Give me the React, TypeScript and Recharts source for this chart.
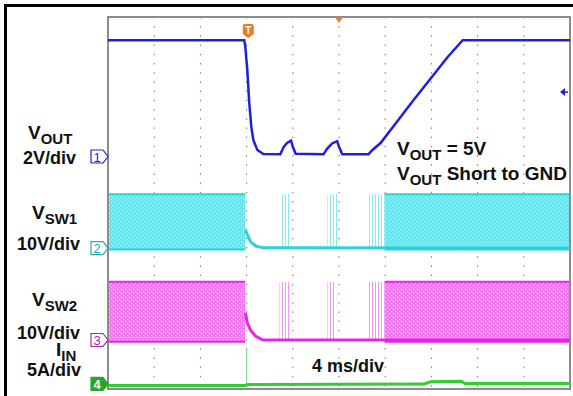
import React from 'react';
import {
  ComposedChart, Line, Area, XAxis, YAxis, CartesianGrid,
  ReferenceArea, ReferenceDot,
} from 'recharts';

// time in ms (trigger ~0), 4 ms/div, 10 div on screen
const timeTicks = [-12, -8, -4, 0, 4, 8, 12, 16, 20, 24, 28];
const divTicks = [-4, -3, -2, -1, 0, 1, 2, 3, 4];

// CH1 VOUT (V)
const vOutTime = [-12, -0.2, -0.11, 0.06, 0.23, 0.41, 0.58, 0.93, 1.45, 2.92, 3.2, 3.5, 3.85, 4.0, 4.25, 6.66, 7.0, 7.4, 7.84, 8.0, 8.28, 10.56, 10.9, 11.6, 14.46, 17.41, 18.71, 28];
const vOutVolts = [5.0, 5.0, 4.71, 3.72, 2.3, 1.27, 0.71, 0.28, 0.11, 0.1, 0.4, 0.58, 0.68, 0.42, 0.12, 0.1, 0.35, 0.56, 0.66, 0.42, 0.1, 0.1, 0.28, 0.58, 2.43, 4.28, 5.0, 5.0];

// CH2 VSW1 (V): switching envelope, burst envelopes, settled trace
const sw1BandTime = [-12, -0.12, -0.11, 11.94, 11.95, 28];
const sw1BandLow = [-0.3, -0.3, null, null, -0.3, -0.3];
const sw1BandHigh = [11.6, 11.6, null, null, 11.6, 11.6];
const sw1BurstTime = [2.9, 3.8, 3.85, 6.95, 7.0, 7.9, 7.95, 10.5, 10.55, 11.95];
const sw1BurstHigh = [11.6, 11.6, null, null, 11.6, 11.6, null, null, 11.6, 11.6];
const sw1Time = [-0.1, 0.08, 0.35, 0.8, 1.4, 28];
const sw1Volts = [3.9, 2.8, 1.35, 0.45, 0.05, 0.0];

// CH3 VSW2 (V)
const sw2BandTime = [-12, -0.12, -0.11, 11.94, 11.95, 28];
const sw2BandLow = [-0.4, -0.4, null, null, -0.4, -0.4];
const sw2BandHigh = [12.5, 12.5, null, null, 12.5, 12.5];
const sw2BurstTime = [2.85, 3.75, 3.8, 6.95, 7.0, 7.75, 7.8, 10.55, 10.6, 11.95];
const sw2BurstHigh = [12.5, 12.5, null, null, 12.5, 12.5, null, null, 12.5, 12.5];
const sw2Time = [-0.1, 0.06, 0.33, 0.77, 1.4, 28];
const sw2Volts = [5.8, 3.7, 2.15, 0.86, 0.0, 0.0];

// CH4 IIN (A)
const iinTime = [-12, -0.1, 0.1, 15.4, 15.9, 18.6, 18.9, 28];
const iinAmps = [0.0, 0.0, 0.1, 0.15, 0.4, 0.45, 0.2, 0.2];
const iinSpikeTime = [0, 0];
const iinSpikeAmps = [0.0, 4.0];

const zip = (t: number[], v: (number | null)[]) => t.map((x, i) => ({ t: x, v: v[i] }));
const band = (t: number[], lo: (number | null)[], hi: (number | null)[]) =>
  t.map((x, i) => ({ t: x, r: lo[i] == null || hi[i] == null ? null : [lo[i], hi[i]] }));

const vOutData = zip(vOutTime, vOutVolts);
const sw1BandData = band(sw1BandTime, sw1BandLow, sw1BandHigh);
const sw1BurstData = band(sw1BurstTime, sw1BurstTime.map((_, i) => (sw1BurstHigh[i] == null ? null : 0)), sw1BurstHigh);
const sw1Data = zip(sw1Time, sw1Volts);
const sw2BandData = band(sw2BandTime, sw2BandLow, sw2BandHigh);
const sw2BurstData = band(sw2BurstTime, sw2BurstTime.map((_, i) => (sw2BurstHigh[i] == null ? null : 0)), sw2BurstHigh);
const sw2Data = zip(sw2Time, sw2Volts);
const iinData = zip(iinTime, iinAmps);
const iinSpikeData = zip(iinSpikeTime, iinSpikeAmps);

const BLUE = '#1f1fdc';
const CYAN = '#27d3dc';
const MAGENTA = '#e625e6';
const GREEN = '#2fcf2f';
const ORANGE = '#f2791c';
const FONT = '"Liberation Sans", Arial, sans-serif';

function ChannelTag({ cx, cy, label, color, filled }: any) {
  return (
    <g>
      <path
        d={`M${cx - 17},${cy - 6.5} H${cx - 5} L${cx},${cy} L${cx - 5},${cy + 6.5} H${cx - 17} Z`}
        fill={filled ? color : '#fff'} stroke={color} strokeWidth={1.2}
      />
      <text x={cx - 11} y={cy + 5} textAnchor="middle" fontSize={13} fontFamily={FONT}
        fontWeight={filled ? 700 : 400} fill={filled ? '#fff' : color}>{label}</text>
    </g>
  );
}

function TrigTag({ cx, cy }: any) {
  return (
    <g>
      <path d={`M${cx - 5.5},${cy + 9} a2,2 0 0 1 2,-2 h7 a2,2 0 0 1 2,2 v8 l-5.5,4 l-5.5,-4 Z`} fill={ORANGE} />
      <text x={cx} y={cy + 17} textAnchor="middle" fontSize={10} fontWeight={700} fontFamily={FONT} fill="#fff">T</text>
    </g>
  );
}

function Txt({ x, y, size = 18, children }: any) {
  return (
    <div style={{
      position: 'absolute', left: x, top: y, fontSize: size, lineHeight: `${0.75 * size}px`,
      fontFamily: FONT, fontWeight: 700, whiteSpace: 'nowrap', color: '#111',
    }}>{children}</div>
  );
}

const Sub = ({ children }: any) => (
  <span style={{ fontSize: 15, position: 'relative', top: 5 }}>{children}</span>
);

export default function App() {
  return (
    <div style={{ position: 'fixed', left: 0, top: 0, width: 573, height: 396, background: '#fff', overflow: 'hidden' }}>
      <div style={{ position: 'absolute', left: 4, top: 4, width: 700, height: 600, border: '3px solid #000' }} />
      <div style={{ position: 'absolute', left: 0, top: 0 }}>
        <ComposedChart width={573} height={396} margin={{ top: 17, right: 3, bottom: 7, left: 108 }}>
          <defs>
            <pattern id="cyanSpeck" width="4" height="4" patternUnits="userSpaceOnUse">
              <rect width="4" height="4" fill="#6be5ec" />
              <rect x="1" y="1" width="1" height="1" fill="#d6f9fb" />
              <rect x="3" y="3" width="1" height="1" fill="#c4f5f8" />
            </pattern>
            <pattern id="magSpeck" width="4" height="4" patternUnits="userSpaceOnUse">
              <rect width="4" height="4" fill="#f07cf0" />
              <rect x="1" y="1" width="1" height="1" fill="#fbd6fb" />
              <rect x="3" y="3" width="1" height="1" fill="#f9c4f9" />
            </pattern>
            <pattern id="cyanBurst" width="3" height="10" patternUnits="userSpaceOnUse">
              <rect width="1" height="10" fill="#8ae9ee" />
            </pattern>
            <pattern id="magBurst" width="3" height="10" patternUnits="userSpaceOnUse">
              <rect width="1" height="10" fill="#f29af2" />
            </pattern>
          </defs>
          <XAxis xAxisId="x" dataKey="t" type="number" domain={[-12, 28]} ticks={timeTicks} hide allowDataOverflow />
          <YAxis yAxisId="grid" type="number" domain={[-4, 4]} ticks={divTicks} hide />
          <YAxis yAxisId="v" type="number" domain={[-10, 6]} hide allowDataOverflow />
          <YAxis yAxisId="sw1" type="number" domain={[-30.3, 49.7]} hide allowDataOverflow />
          <YAxis yAxisId="sw2" type="number" domain={[-10.54, 69.46]} hide allowDataOverflow />
          <YAxis yAxisId="iin" type="number" domain={[-0.38, 39.62]} hide allowDataOverflow />
          <CartesianGrid xAxisId="x" yAxisId="grid" stroke="#777" strokeDasharray="1.5 7.7" />

          <Area xAxisId="x" yAxisId="sw1" data={sw1BurstData} dataKey="r" type="linear" fill="url(#cyanBurst)" fillOpacity={1} stroke="none" isAnimationActive={false} />
          <Area xAxisId="x" yAxisId="sw1" data={sw1BandData} dataKey="r" type="linear" fill="url(#cyanSpeck)" fillOpacity={1} stroke={CYAN} strokeWidth={2} isAnimationActive={false} />
          <Line xAxisId="x" yAxisId="sw1" data={sw1Data} dataKey="v" type="linear" stroke={CYAN} strokeWidth={3} dot={false} isAnimationActive={false} />

          <Area xAxisId="x" yAxisId="sw2" data={sw2BurstData} dataKey="r" type="linear" fill="url(#magBurst)" fillOpacity={1} stroke="none" isAnimationActive={false} />
          <Area xAxisId="x" yAxisId="sw2" data={sw2BandData} dataKey="r" type="linear" fill="url(#magSpeck)" fillOpacity={1} stroke={MAGENTA} strokeWidth={2} isAnimationActive={false} />
          <Line xAxisId="x" yAxisId="sw2" data={sw2Data} dataKey="v" type="linear" stroke={MAGENTA} strokeWidth={3} dot={false} isAnimationActive={false} />

          <Line xAxisId="x" yAxisId="iin" data={iinSpikeData} dataKey="v" type="linear" stroke="#7fe07f" strokeWidth={1} dot={false} isAnimationActive={false} />
          <Line xAxisId="x" yAxisId="iin" data={iinData} dataKey="v" type="linear" stroke={GREEN} strokeWidth={3} dot={false} isAnimationActive={false} />

          <Line xAxisId="x" yAxisId="v" data={vOutData} dataKey="v" type="linear" stroke={BLUE} strokeWidth={2.5} dot={false} isAnimationActive={false} />

          <ReferenceArea xAxisId="x" yAxisId="v" x1={-12} x2={28} y1={-10} y2={6} fill="none" fillOpacity={0} stroke="#8c8c8c" strokeWidth={2} strokeOpacity={1} ifOverflow="visible" />

          <ReferenceDot xAxisId="x" yAxisId="v" x={-12} y={0} ifOverflow="visible"
            shape={(p: any) => <ChannelTag cx={p.cx} cy={p.cy} label="1" color={BLUE} />} />
          <ReferenceDot xAxisId="x" yAxisId="sw1" x={-12} y={0} ifOverflow="visible"
            shape={(p: any) => <ChannelTag cx={p.cx} cy={p.cy} label="2" color="#2aa9ab" />} />
          <ReferenceDot xAxisId="x" yAxisId="sw2" x={-12} y={0} ifOverflow="visible"
            shape={(p: any) => <ChannelTag cx={p.cx} cy={p.cy} label="3" color="#a42aa4" />} />
          <ReferenceDot xAxisId="x" yAxisId="iin" x={-12} y={0} ifOverflow="visible"
            shape={(p: any) => <ChannelTag cx={p.cx} cy={p.cy - 1.5} label="4" color="#22a822" filled />} />
          <ReferenceDot xAxisId="x" yAxisId="v" x={0.15} y={6} ifOverflow="visible"
            shape={(p: any) => <TrigTag cx={p.cx} cy={p.cy} />} />
          <ReferenceDot xAxisId="x" yAxisId="v" x={8} y={6} ifOverflow="visible"
            shape={(p: any) => <path d={`M${p.cx - 4},${p.cy} L${p.cx + 4},${p.cy} L${p.cx},${p.cy + 6} Z`} fill={ORANGE} />} />
          <ReferenceDot xAxisId="x" yAxisId="v" x={28} y={2.77} ifOverflow="visible"
            shape={(p: any) => (
              <g>
                <path d={`M${p.cx - 10},${p.cy} L${p.cx - 5},${p.cy - 4} L${p.cx - 5},${p.cy + 4} Z`} fill={BLUE} />
                <line x1={p.cx - 5} y1={p.cy} x2={p.cx - 2} y2={p.cy} stroke={BLUE} strokeWidth={1.5} />
              </g>
            )} />
        </ComposedChart>
      </div>

      <Txt x={28} y={126} size={19}>V<Sub>OUT</Sub></Txt>
      <Txt x={23} y={152}>2V/div</Txt>
      <Txt x={32} y={206} size={19}>V<Sub>SW1</Sub></Txt>
      <Txt x={17} y={238}>10V/div</Txt>
      <Txt x={32} y={293} size={19}>V<Sub>SW2</Sub></Txt>
      <Txt x={17} y={327}>10V/div</Txt>
      <Txt x={56} y={343} size={19}>I<Sub>IN</Sub></Txt>
      <Txt x={27} y={364}>5A/div</Txt>

      <Txt x={397} y={142} size={19}>V<Sub>OUT</Sub> = 5V</Txt>
      <Txt x={397} y={167} size={19}>V<Sub>OUT</Sub> Short to GND</Txt>
      <Txt x={312} y={360}>4 ms/div</Txt>
    </div>
  );
}
